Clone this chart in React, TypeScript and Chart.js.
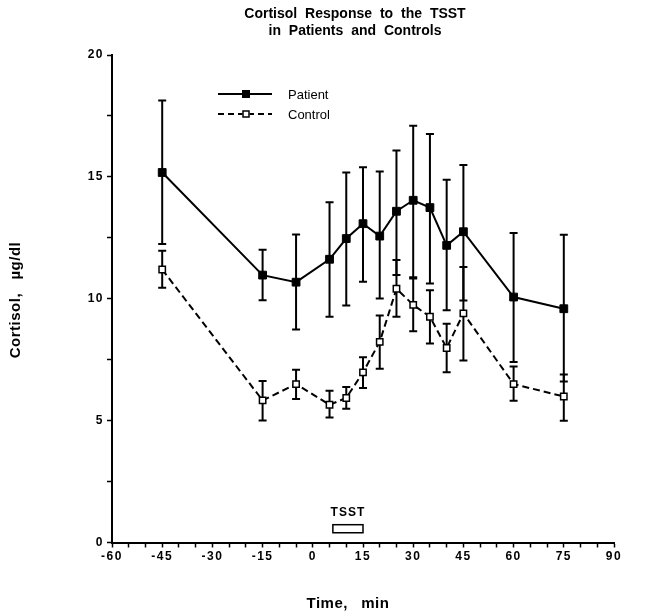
import React, { useEffect, useRef } from "react";
import { Chart, registerables } from "chart.js";

Chart.register(...registerables);

const times = [-45, -15, -5, 5, 10, 15, 20, 25, 30, 35, 40, 45, 60, 75];
const patientMean = [15.18, 10.97, 10.68, 11.62, 12.47, 13.08, 12.57, 13.59, 14.04, 13.74, 12.19, 12.75, 10.07, 9.59];
const patientHigh = [18.13, 12.01, 12.64, 13.96, 15.18, 15.4, 15.22, 16.08, 17.1, 16.76, 14.88, 15.49, 12.7, 12.63];
const patientLow = [12.25, 9.94, 8.74, 9.26, 9.72, 10.7, 10.01, 10.97, 10.88, 10.63, 9.53, 9.93, 7.41, 6.61];
const controlMean = [11.2, 5.83, 6.5, 5.65, 5.93, 6.98, 8.23, 10.41, 9.75, 9.26, 7.98, 9.4, 6.5, 5.99];
const controlHigh = [11.97, 6.63, 7.09, 6.23, 6.38, 7.6, 9.31, 11.59, 10.83, 10.35, 8.97, 11.3, 7.22, 6.89];
const controlLow = [10.45, 5.01, 5.89, 5.13, 5.49, 6.34, 7.13, 9.26, 8.67, 8.16, 6.98, 7.47, 5.82, 5.0];
const tsstStart = 6;
const tsstEnd = 15;
const tsstLow = 0.4;
const tsstHigh = 0.73;
const seriesLabels = ["Patient", "Control"];
const titleLines = ["Cortisol Response to the TSST", "in Patients and Controls"];
const xTitle = "Time,  min";
const yTitle = "Cortisol,  \u00b5g/dl";

const FONT = '"Liberation Sans", Arial, Helvetica, sans-serif';

const lows = [patientLow, controlLow];
const highs = [patientHigh, controlHigh];

const customPlugin = {
  id: "custom",
  beforeDraw(chart: any) {
    const ctx = chart.ctx;
    ctx.letterSpacing = "1.5px";
  },
  beforeDatasetsDraw(chart: any) {
    const ctx = chart.ctx;
    ctx.letterSpacing = "0px";
    const xs = chart.scales.x;
    const ys = chart.scales.y;
    ctx.save();
    ctx.strokeStyle = "#000";
    ctx.lineWidth = 2;
    for (let d = 0; d < 2; d++) {
      for (let i = 0; i < times.length; i++) {
        const x = xs.getPixelForValue(times[i]);
        const y1 = ys.getPixelForValue(lows[d][i]);
        const y2 = ys.getPixelForValue(highs[d][i]);
        ctx.beginPath();
        ctx.moveTo(x, y1);
        ctx.lineTo(x, y2);
        ctx.moveTo(x - 4, y1);
        ctx.lineTo(x + 4, y1);
        ctx.moveTo(x - 4, y2);
        ctx.lineTo(x + 4, y2);
        ctx.stroke();
      }
    }
    ctx.restore();
  },
  afterDraw(chart: any) {
    const ctx = chart.ctx;
    const xs = chart.scales.x;
    const ys = chart.scales.y;
    const area = chart.chartArea;
    ctx.save();
    ctx.letterSpacing = "0px";
    ctx.fillStyle = "#000";
    ctx.strokeStyle = "#000";
    // title
    ctx.font = `bold 14px ${FONT}`;
    ctx.textAlign = "center";
    ctx.textBaseline = "middle";
    (ctx as any).wordSpacing = "4px";
    ctx.fillText(titleLines[0], 355, 14);
    ctx.fillText(titleLines[1], 355, 31);
    // axis titles
    ctx.font = `bold 15px ${FONT}`;
    (ctx as any).wordSpacing = "2px";
    ctx.letterSpacing = "0.5px";
    ctx.fillText(xTitle, 348, 604);
    ctx.save();
    ctx.translate(16, 300);
    ctx.rotate(-Math.PI / 2);
    ctx.fillText(yTitle, 0, 0);
    ctx.restore();
    (ctx as any).wordSpacing = "0px";
    ctx.letterSpacing = "0px";

    // TSST box
    const bx1 = xs.getPixelForValue(tsstStart);
    const bx2 = xs.getPixelForValue(tsstEnd);
    const by1 = ys.getPixelForValue(tsstHigh);
    const by2 = ys.getPixelForValue(tsstLow);
    ctx.lineWidth = 1.5;
    ctx.strokeRect(bx1, by1, bx2 - bx1, by2 - by1);
    ctx.font = `bold 12px ${FONT}`;
    ctx.letterSpacing = "1px";
    ctx.fillText("TSST", (bx1 + bx2) / 2, by1 - 12);
    ctx.letterSpacing = "0px";

    // legend
    const lx1 = area.left + 106;
    const lx2 = area.left + 160;
    const lm = area.left + 134;
    const lys = [area.top + 39, area.top + 59];
    ctx.font = `13px ${FONT}`;
    ctx.textAlign = "left";
    for (let d = 0; d < 2; d++) {
      const y = lys[d];
      ctx.lineWidth = 2;
      ctx.setLineDash(d === 1 ? [6, 4] : []);
      ctx.beginPath();
      ctx.moveTo(lx1, y);
      ctx.lineTo(lx2, y);
      ctx.stroke();
      ctx.setLineDash([]);
      if (d === 0) {
        ctx.fillStyle = "#000";
        ctx.fillRect(lm - 4, y - 4, 8, 8);
      } else {
        ctx.fillStyle = "#fff";
        ctx.fillRect(lm - 3.5, y - 3.5, 7, 7);
        ctx.lineWidth = 1.5;
        ctx.strokeRect(lm - 3, y - 3, 6, 6);
      }
      ctx.fillStyle = "#000";
      ctx.fillText(seriesLabels[d], area.left + 176, y + 1);
    }
    ctx.restore();
  },
};

export default function App() {
  const ref = useRef<HTMLCanvasElement>(null);
  useEffect(() => {
    if (!ref.current) return;
    const chart = new Chart(ref.current, {
      type: "line",
      data: {
        datasets: [
          {
            label: seriesLabels[0],
            data: times.map((t, i) => ({ x: t, y: patientMean[i] })),
            borderColor: "#000",
            borderWidth: 2,
            backgroundColor: "#000",
            pointStyle: "rect",
            pointRadius: 5.5,
            pointBorderWidth: 1,
            pointBorderColor: "#000",
            pointBackgroundColor: "#000",
            tension: 0,
          },
          {
            label: seriesLabels[1],
            data: times.map((t, i) => ({ x: t, y: controlMean[i] })),
            borderColor: "#000",
            borderWidth: 2,
            borderDash: [7, 4],
            backgroundColor: "#fff",
            pointStyle: "rect",
            pointRadius: 4.5,
            pointBorderWidth: 1.5,
            pointBorderColor: "#000",
            pointBackgroundColor: "#fff",
            tension: 0,
          },
        ],
      },
      options: {
        responsive: false,
        animation: false,
        events: [],
        layout: { padding: { top: 55, right: 42, left: 0, bottom: 0 } },
        plugins: {
          legend: { display: false },
          tooltip: { enabled: false },
          title: { display: false },
        },
        scales: {
          x: {
            type: "linear",
            min: -60,
            max: 90,
            afterFit: (s: any) => {
              s.height = 73.5;
            },
            ticks: {
              stepSize: 5,
              autoSkip: false,
              maxRotation: 0,
              padding: 2,
              color: "#000",
              font: { family: FONT, size: 12, weight: "bold" },
              callback: (v: any) => (Number(v) % 15 === 0 ? String(Number(v) + 0) : ""),
            },
            grid: {
              drawOnChartArea: false,
              drawTicks: true,
              tickLength: 5,
              tickColor: "#000",
              tickWidth: 1.5,
            },
            border: { color: "#000", width: 2 },
          },
          y: {
            type: "linear",
            min: 0,
            max: 20,
            afterFit: (s: any) => {
              s.width = 112;
            },
            ticks: {
              stepSize: 2.5,
              autoSkip: false,
              padding: 3,
              color: "#000",
              font: { family: FONT, size: 12, weight: "bold" },
              callback: (v: any) => (Number(v) % 5 === 0 ? String(v) : ""),
            },
            grid: {
              drawOnChartArea: false,
              drawTicks: true,
              tickLength: 5,
              tickColor: "#000",
              tickWidth: 1.5,
            },
            border: { color: "#000", width: 2 },
          },
        },
      },
      plugins: [customPlugin],
    } as any);
    return () => chart.destroy();
  }, []);
  return (
    <div style={{ position: "fixed", left: 0, top: 0, width: 656, height: 616, background: "#fff" }}>
      <canvas ref={ref} width={656} height={616} style={{ display: "block" }} />
    </div>
  );
}
